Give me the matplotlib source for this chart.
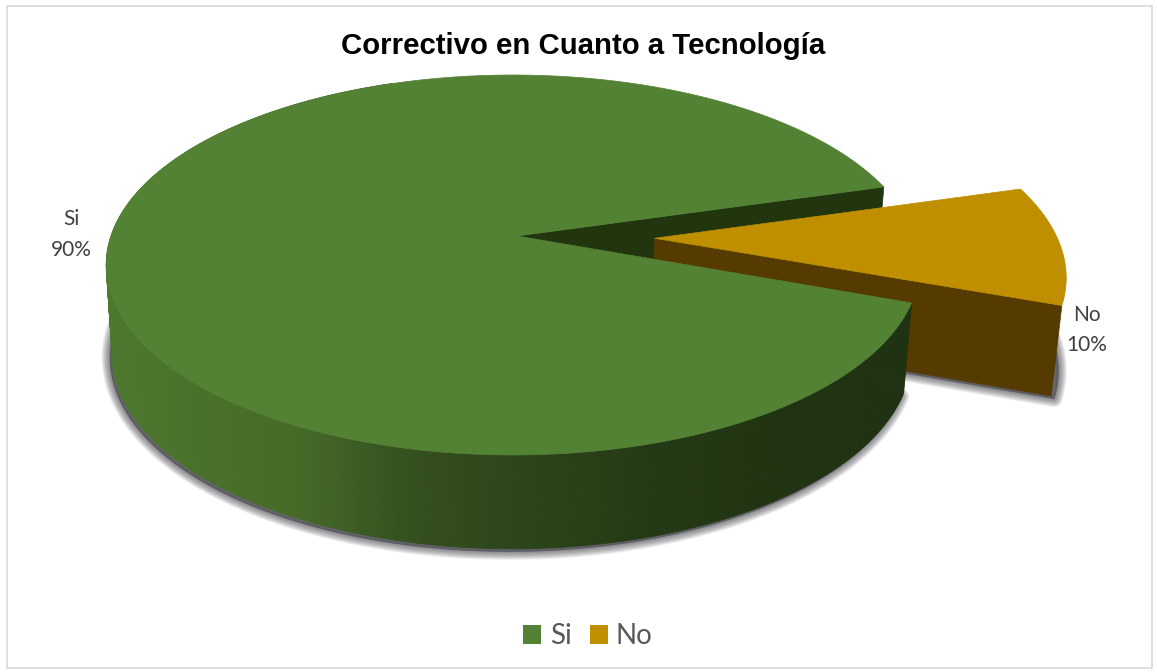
import numpy as np
import matplotlib
matplotlib.use("Agg")
import matplotlib.pyplot as plt
from matplotlib.patches import Patch, Rectangle

TITLE = "Correctivo en Cuanto a Tecnología"
labels = ["Si", "No"]
values = [90, 10]
percent_labels = ["90%", "10%"]
top_colors = ["#548235", "#BF8F00"]

# pie projection, in image pixels
K = 0.1526
TOP = dict(x0=513, ax=402, q=236, p=-149.55)
BOTTOM = dict(x0=512, ax=395, q=325, p=-140.0)
EXPLODE = 0.352
NO_START = 16.0  # degrees, where the "No" slice begins (going clockwise)
APEX_NUDGE = 4  # the big slice's tip sits a little right of the projected centre


def project(u, v, disk):
    d = K * v + 1
    return disk["x0"] + disk["ax"] * u / d, (disk["p"] * v + disk["q"]) / d


def rim(a0, a1, disk, shift=(0, 0), n=200):
    t = np.radians(np.linspace(a0, a1, n))
    return project(np.cos(t) + shift[0], np.sin(t) + shift[1], disk)


def wedge(a0, a1, disk, shift=(0, 0), nudge=0):
    x, y = rim(a0, a1, disk, shift)
    cx, cy = project(shift[0], shift[1], disk)
    return np.r_[cx + nudge, x], np.r_[cy, y]


def wall_shade(x):
    stops = [105, 300, 400, 500, 650, 800, 930]
    r = np.interp(x, stops, [78, 70, 54, 46, 36, 32, 31])
    g = np.interp(x, stops, [120, 105, 82, 70, 58, 51, 50])
    b = np.interp(x, stops, [46, 40, 31, 27, 21, 18, 18])
    return (r / 255, g / 255, b / 255)


fig = plt.figure(figsize=(11.57, 6.72), dpi=100)
ax = fig.add_axes([0, 0, 1, 1])
ax.set_xlim(0, 1157)
ax.set_ylim(672, 0)
ax.axis("off")
ax.add_patch(Rectangle((6.5, 5.5), 1145, 662, fc="white", ec="#d9d9d9", lw=1.2))

# slice angles come from the values
total = sum(values)
no_sweep = 360 * values[1] / total
no_a0, no_a1 = NO_START, NO_START - no_sweep
si_a0, si_a1 = no_a1, no_a1 - 360 * values[0] / total
mid = np.radians((no_a0 + no_a1) / 2)
shift = (EXPLODE * np.cos(mid), EXPLODE * np.sin(mid))

# soft shadow under both pieces
si_bx, si_by = rim(si_a0, si_a0 - 230, BOTTOM)
no_bx, no_by = wedge(no_a0, no_a1, BOTTOM, shift)
for r in range(9, 0, -1):
    for bx, by, dx in ((si_bx, si_by, -2.5), (no_bx, no_by, 3)):
        ax.fill(bx + dx, by + 3, fc="#2e2e38", ec="#2e2e38", lw=r * 1.3, alpha=0.08, joinstyle="round")

# cut face of the big slice, behind the exploded one
tx, ty = project(np.cos(np.radians(si_a1)), np.sin(np.radians(si_a1)), TOP)
cx, cy = project(0, 0, TOP)
bx, by = project(np.cos(np.radians(si_a1)), np.sin(np.radians(si_a1)), BOTTOM)
bcx, bcy = project(0, 0, BOTTOM)
ax.fill([cx + APEX_NUDGE, tx, bx, bcx], [cy, ty, by, bcy], fc="#21360f", ec="#21360f", lw=0.5)

# exploded slice: side faces and top
x0, y0 = rim(no_a1, no_a1, TOP, shift, 2)
x1, y1 = rim(no_a1, no_a1, BOTTOM, shift, 2)
acx, acy = project(shift[0], shift[1], TOP)
abx, aby = project(shift[0], shift[1], BOTTOM)
ax.fill([acx, x0[0], x1[0], abx], [acy, y0[0], y1[0], aby], fc="#553b00", ec="#553b00", lw=0.5)
ax.fill(*wedge(no_a0, no_a1, TOP, shift), fc=top_colors[1], ec=top_colors[1], lw=0.5)

# round wall of the big slice, shaded from left to right (back half stays hidden)
tx_r, ty_r = rim(si_a0, si_a0 - 230, TOP, n=300)
bx_r, by_r = rim(si_a0, si_a0 - 230, BOTTOM, n=300)
for i in range(len(tx_r) - 1):
    shade = wall_shade((tx_r[i] + tx_r[i + 1]) / 2)
    ax.fill([tx_r[i], tx_r[i + 1], bx_r[i + 1], bx_r[i]],
            [ty_r[i], ty_r[i + 1], by_r[i + 1], by_r[i]], fc=shade, ec=shade, lw=0.6)

ax.fill(*wedge(si_a0, si_a1, TOP, nudge=APEX_NUDGE), fc=top_colors[0], ec=top_colors[0], lw=0.5)

ax.text(583, 45.5, TITLE, ha="center", va="center", fontsize=21.2, fontweight="bold",
        family="Liberation Sans", color="black")

ax.text(71, 234.5, f"{labels[0]}\n{percent_labels[0]}", ha="center", va="center", fontsize=15,
        family="Lato", color="#404040", linespacing=1.65)
ax.text(1087, 330, f"{labels[1]}\n{percent_labels[1]}", ha="center", va="center", fontsize=15,
        family="Lato", color="#404040", linespacing=1.65)

handles = [Patch(fc=c, ec="none") for c in top_colors]
ax.legend(handles, labels, loc="center", bbox_to_anchor=(588, 636), bbox_transform=ax.transData,
          ncol=2, frameon=False, handlelength=0.65, handleheight=0.65, handletextpad=0.3,
          columnspacing=0.65, prop={"family": "Lato", "size": 20}, labelcolor="#595959")

fig.savefig("out.png", dpi=100)
